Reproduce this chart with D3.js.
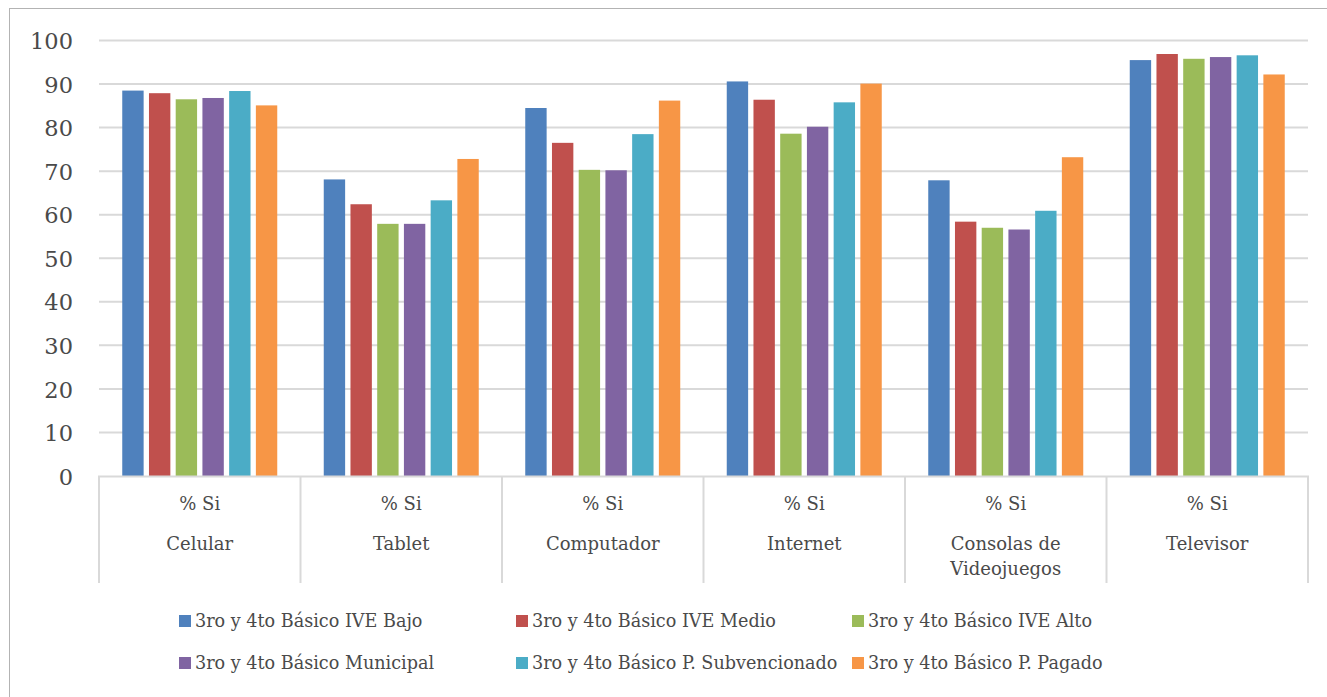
<!DOCTYPE html>
<html>
<head>
<meta charset="utf-8">
<script src="https://cdn.jsdelivr.net/npm/d3@7"></script>
<style>
  html, body { margin: 0; padding: 0; background: #fff; }
  svg { display: block; }
  text { font-family: "DejaVu Serif", "Liberation Serif", serif; fill: #4a4a4a; }
</style>
</head>
<body>
<svg id="chart" width="1327" height="697"></svg>
<script>
const categories = ["Celular", "Tablet", "Computador", "Internet", "Consolas de\nVideojuegos", "Televisor"];
const subLabel = "% Si";
const seriesNames = [
  "3ro y 4to Básico IVE Bajo",
  "3ro y 4to Básico IVE Medio",
  "3ro y 4to Básico IVE Alto",
  "3ro y 4to Básico Municipal",
  "3ro y 4to Básico P. Subvencionado",
  "3ro y 4to Básico P. Pagado"
];
const iveBajo       = [88.5, 68.1, 84.5, 90.6, 67.9, 95.5];
const iveMedio      = [87.9, 62.4, 76.5, 86.4, 58.4, 96.9];
const iveAlto       = [86.5, 57.9, 70.3, 78.6, 57.0, 95.8];
const municipal     = [86.8, 57.9, 70.2, 80.2, 56.6, 96.2];
const subvencionado = [88.4, 63.3, 78.5, 85.8, 60.9, 96.6];
const pagado        = [85.1, 72.8, 86.2, 90.1, 73.2, 92.2];
const seriesValues = [iveBajo, iveMedio, iveAlto, municipal, subvencionado, pagado];
const colors = ["#4f81bd", "#c0504d", "#9bbb59", "#8064a2", "#4bacc6", "#f79646"];
const yTicks = [0, 10, 20, 30, 40, 50, 60, 70, 80, 90, 100];

const svg = d3.select("#chart");

// outer frame
svg.append("rect").attr("x", 9.5).attr("y", 8.5).attr("width", 1340).attr("height", 700)
  .attr("fill", "none").attr("stroke", "#b3b3b3").attr("stroke-width", 1);

const plotLeft = 99, plotRight = 1308, plotTop = 40.5, plotBottom = 476;
const y = d3.scaleLinear().domain([0, 100]).range([plotBottom, plotTop]);
const x0 = d3.scaleBand().domain(categories).range([plotLeft, plotRight]).paddingInner(0).paddingOuter(0);
const x1 = d3.scaleBand().domain(d3.range(seriesNames.length)).range([0, x0.bandwidth()]).paddingInner(0.2).paddingOuter(0.87);

// gridlines
svg.append("g").selectAll("line").data(yTicks.filter(d => d > 0)).join("line")
  .attr("x1", plotLeft).attr("x2", plotRight)
  .attr("y1", d => y(d)).attr("y2", d => y(d))
  .attr("stroke", "#d9d9d9").attr("stroke-width", 2);

// y axis labels
const yAxis = d3.axisLeft(y).tickValues(yTicks).tickSize(0).tickPadding(0);
const yg = svg.append("g").attr("transform", "translate(73,0)").call(yAxis);
yg.select(".domain").remove();
yg.attr("font-family", null);
yg.selectAll("text").attr("font-size", 22.5).attr("fill", "#4a4a4a").attr("dy", "0.36em");

// bars
const groups = svg.append("g").selectAll("g").data(categories).join("g")
  .attr("transform", d => `translate(${x0(d)},0)`);
groups.selectAll("rect").data((d, i) => seriesValues.map((s, k) => ({k, v: s[i]}))).join("rect")
  .attr("x", d => x1(d.k)).attr("width", x1.bandwidth())
  .attr("y", d => y(d.v)).attr("height", d => y(0) - y(d.v))
  .attr("fill", d => colors[d.k]);

// category axis box
const axisG = svg.append("g");
axisG.append("line").attr("x1", plotLeft - 1).attr("x2", plotRight + 1).attr("y1", plotBottom + 0.5).attr("y2", plotBottom + 0.5)
  .attr("stroke", "#d9d9d9").attr("stroke-width", 2);
const seps = categories.map(c => x0(c)).concat([plotRight]);
axisG.selectAll("line.sep").data(seps).join("line").attr("class", "sep")
  .attr("x1", d => d).attr("x2", d => d).attr("y1", plotBottom).attr("y2", 583)
  .attr("stroke", "#d9d9d9").attr("stroke-width", 2);

const labG = svg.append("g").selectAll("g").data(categories).join("g")
  .attr("transform", d => `translate(${x0(d) + x0.bandwidth() / 2},0)`);
labG.append("text").attr("y", 504).attr("dy", "0.36em").attr("text-anchor", "middle")
  .attr("font-size", 18).text(subLabel);
labG.each(function(d) {
  const lines = d.split("\n");
  const t = d3.select(this).append("text").attr("text-anchor", "middle").attr("font-size", 18);
  lines.forEach((ln, i) => t.append("tspan").attr("x", 0).attr("y", 544 + i * 25).attr("dy", "0.36em").text(ln));
});

// legend
const legX = [179, 516, 852];
const legY = [621, 663];
const leg = svg.append("g").selectAll("g").data(seriesNames).join("g")
  .attr("transform", (d, i) => `translate(${legX[i % 3]},${legY[Math.floor(i / 3)]})`);
leg.append("rect").attr("x", 0).attr("y", -6).attr("width", 12).attr("height", 12).attr("fill", (d, i) => colors[i]);
leg.append("text").attr("x", 16).attr("y", 0).attr("dy", "0.36em").attr("font-size", 17.6).text(d => d);
</script>
</body>
</html>
